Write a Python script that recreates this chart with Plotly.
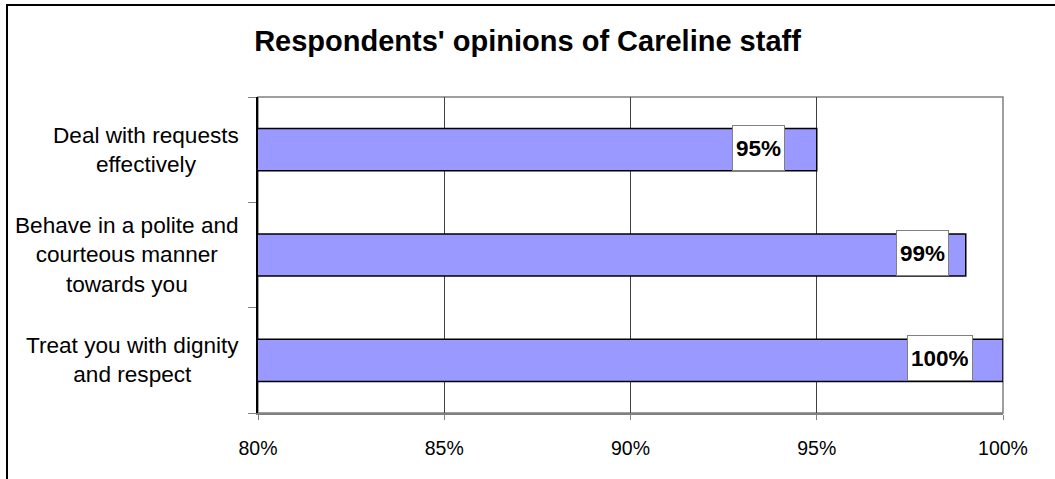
import plotly.graph_objects as go

# ---- data ----
categories = [
    "Treat you with dignity<br>and respect",
    "Behave in a polite and<br>courteous manner<br>towards you",
    "Deal with requests<br>effectively",
]
values = [1.00, 0.99, 0.95]
value_labels = ["100%", "99%", "95%"]
label_xshift = [-30, -17, -32]

title_text = "Respondents' opinions of Careline staff"
FONT = "Liberation Sans, Arial, sans-serif"

fig = go.Figure()
fig.add_trace(go.Bar(
    y=categories, x=values, orientation="h",
    marker=dict(color="#9999FF", line=dict(color="black", width=1.5)),
    hoverinfo="skip", showlegend=False,
))

# data labels (white boxes inside bar end)
for cat, v, lab, xs in zip(categories, values, value_labels, label_xshift):
    fig.add_annotation(
        x=v, y=cat, xref="x", yref="y", text=f"<b>{lab}</b>",
        showarrow=False, xanchor="right", yanchor="middle", xshift=xs, yshift=2,
        font=dict(family=FONT, size=22.5, color="black"),
        bgcolor="white", bordercolor="#808080", borderwidth=1, borderpad=3,
        height=38,
    )

# category labels (centred multi-line)
for cat in categories:
    fig.add_annotation(
        x=0, y=cat, xref="paper", yref="y", text=cat, align="center",
        showarrow=False, xanchor="right", yanchor="middle", xshift=-17,
        font=dict(family=FONT, size=22.6, color="black"),
    )

# plot-area border (gray) and outer chart border
fig.add_shape(type="rect", xref="paper", yref="paper", x0=0, x1=1, y0=0, y1=1,
              line=dict(color="#808080", width=1.5), layer="below")
fig.add_shape(type="rect", xref="paper", yref="paper",
              x0=-0.3369, x1=1.2, y0=-0.5, y1=1.2911,
              line=dict(color="black", width=2), layer="below")

fig.update_layout(
    width=1055, height=479,
    margin=dict(l=258, r=52, t=97, b=66),
    paper_bgcolor="white", plot_bgcolor="white",
    bargap=0.6,
    title=dict(text=f"<b>{title_text}</b>", x=0.5, xref="container", xanchor="center",
               y=1 - 41 / 479, yref="container", yanchor="middle",
               font=dict(family=FONT, size=29, color="black")),
    font=dict(family=FONT, color="black"),
)
fig.update_xaxes(
    range=[0.8, 1.0], dtick=0.05, tick0=0.8, tickformat=".0%",
    showgrid=True, gridcolor="#404040", gridwidth=1,
    showline=True, linecolor="#808080", linewidth=1.5,
    ticks="outside", ticklen=5, tickcolor="#808080",
    tickfont=dict(family=FONT, size=19.5, color="black"),
    ticklabelstandoff=12, zeroline=False, fixedrange=True,
)
fig.update_yaxes(
    type="category", categoryorder="array", categoryarray=categories,
    showticklabels=False, tickson="boundaries",
    ticks="outside", ticklen=8, tickcolor="#808080",
    showline=True, linecolor="black", linewidth=1.5,
    showgrid=False, fixedrange=True,
)

fig.write_html("out.html")
